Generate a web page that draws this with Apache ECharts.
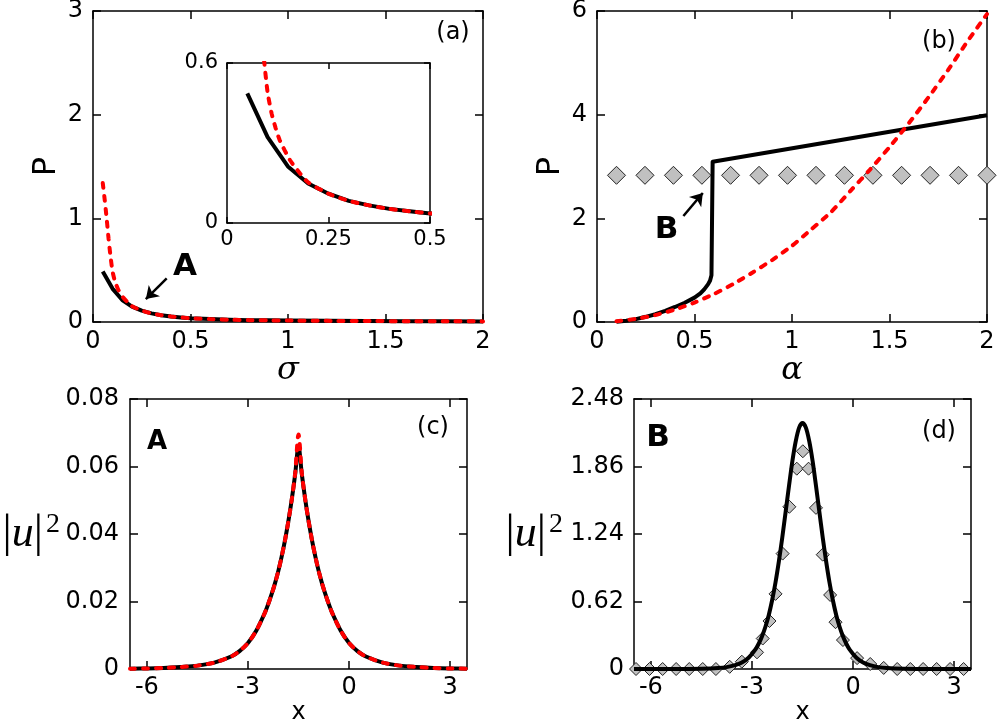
<!DOCTYPE html>
<html>
<head>
<meta charset="utf-8">
<script src="https://cdn.jsdelivr.net/npm/echarts@6/dist/echarts.min.js"></script>
<style>
html,body{margin:0;padding:0;background:#fff;}
#main{width:997px;height:719px;}
</style>
</head>
<body>
<div id="main"></div>
<script>
// ---------- Panel (a): P vs sigma ----------
const sigmaBlack = [0.05,0.1,0.15,0.2,0.25,0.3,0.35,0.4,0.45,0.5,0.6,0.7,0.8,0.9,1.0,1.2,1.4,1.6,1.8,2.0];
const pBlackA   = [0.486,0.322,0.212,0.148,0.110,0.083,0.066,0.053,0.044,0.036,0.028,0.022,0.018,0.016,0.014,0.011,0.009,0.008,0.007,0.006];
const sigmaRed  = [0.05,0.06,0.07,0.08,0.09,0.1,0.11,0.12,0.13,0.155,0.18,0.2,0.25,0.3,0.35,0.4,0.45,0.5,0.6,0.7,0.8,0.9,1.0,1.2,1.4,1.6,1.8,2.0];
const pRedA     = [1.34,1.18,1.00,0.80,0.63,0.49,0.41,0.355,0.31,0.236,0.186,0.152,0.110,0.083,0.066,0.053,0.044,0.036,0.028,0.022,0.018,0.016,0.014,0.011,0.009,0.008,0.007,0.006];
const ticksAx = [0,0.5,1,1.5,2];
const ticksAy = [0,1,2,3];
const ticksInsetX = [0,0.25,0.5];
const ticksInsetY = [0,0.6];

// ---------- Panel (b): P vs alpha ----------
const alphaBlack = [0.1,0.15,0.2,0.25,0.3,0.35,0.4,0.45,0.5,0.53,0.55,0.57,0.58,0.587,0.593,2.0];
const pBlackB    = [0.005,0.025,0.055,0.10,0.15,0.215,0.29,0.37,0.47,0.55,0.63,0.73,0.80,0.90,3.09,3.99];
const alphaRed   = [0.1,0.2,0.3,0.4,0.5,0.6,0.7,0.8,0.9,1.0,1.1,1.2,1.3,1.4,1.5,1.6,1.7,1.8,1.9,2.0];
const pRedB      = [0.015,0.06,0.135,0.24,0.375,0.54,0.735,0.96,1.2,1.47,1.79,2.12,2.53,2.94,3.375,3.84,4.335,4.86,5.415,5.94];
const alphaDiamond = [0.1,0.246,0.392,0.538,0.685,0.831,0.977,1.123,1.269,1.415,1.562,1.708,1.854,2.0];
const pDiamond     = [2.83,2.83,2.83,2.83,2.83,2.83,2.83,2.83,2.83,2.83,2.83,2.83,2.83,2.83];
const ticksBx = [0,0.5,1,1.5,2];
const ticksBy = [0,2,4,6];

// ---------- Panel (c): |u|^2 vs x (state A) ----------
const xC      = [-6.5,-6,-5.5,-5,-4.5,-4,-3.5,-3.25,-3,-2.75,-2.5,-2.4,-2.3,-2.2,-2.1,-2,-1.9,-1.8,-1.7,-1.6,-1.5,-1.4,-1.3,-1.2,-1.1,-1,-0.9,-0.8,-0.7,-0.6,-0.5,-0.25,0,0.25,0.5,1,1.5,2,2.5,3,3.5];
const uBlackC = [0.0001,0.00015,0.0003,0.0006,0.001,0.0019,0.0037,0.0053,0.0077,0.0114,0.0166,0.0192,0.0221,0.0253,0.029,0.0333,0.0382,0.0438,0.0502,0.0576,0.066,0.0576,0.0502,0.0438,0.0382,0.0333,0.029,0.0253,0.0221,0.0192,0.0166,0.0114,0.0077,0.0053,0.0037,0.0019,0.001,0.0006,0.0003,0.00015,0.0001];
const uRedC   = [0.0001,0.00015,0.0003,0.0006,0.001,0.0019,0.0037,0.0053,0.0077,0.0114,0.0166,0.0192,0.0221,0.0253,0.029,0.0333,0.0382,0.0438,0.0502,0.058,0.0695,0.058,0.0502,0.0438,0.0382,0.0333,0.029,0.0253,0.0221,0.0192,0.0166,0.0114,0.0077,0.0053,0.0037,0.0019,0.001,0.0006,0.0003,0.00015,0.0001];
const ticksCx = [-6,-3,0,3];
const ticksCy = [0,0.02,0.04,0.06,0.08];

// ---------- Panel (d): |u|^2 vs x (state B) ----------
const xD      = [-6.5,-6,-5.5,-5,-4.5,-4,-3.75,-3.5,-3.3,-3.1,-2.9,-2.8,-2.7,-2.6,-2.5,-2.4,-2.3,-2.2,-2.1,-2.0,-1.9,-1.8,-1.7,-1.6,-1.5,-1.4,-1.3,-1.2,-1.1,-1.0,-0.9,-0.8,-0.7,-0.6,-0.5,-0.4,-0.3,-0.2,-0.1,0.1,0.3,0.5,0.75,1.0,1.5,2.0,2.5,3.0,3.5];
const uBlackD = [0,0,0.0001,0.0005,0.002,0.0087,0.0174,0.035,0.06,0.104,0.178,0.232,0.301,0.388,0.497,0.634,0.797,0.991,1.208,1.445,1.683,1.91,2.093,2.217,2.26,2.217,2.093,1.91,1.683,1.445,1.208,0.991,0.797,0.634,0.497,0.388,0.301,0.232,0.178,0.104,0.06,0.035,0.0174,0.0087,0.002,0.0005,0.0001,0,0];
const xDiamondD = [-6.44,-6.04,-5.65,-5.25,-4.86,-4.46,-4.07,-3.66,-3.30,-2.85,-2.68,-2.48,-2.30,-2.09,-1.89,-1.67,-1.49,-1.32,-1.10,-0.90,-0.68,-0.52,-0.30,0.12,0.51,0.91,1.31,1.70,2.08,2.48,2.88,3.28];
const uDiamondD = [0,0,0,0,0,0,0,0.02,0.067,0.153,0.28,0.441,0.69,1.06,1.49,1.84,2.0,1.84,1.48,1.05,0.68,0.43,0.266,0.10,0.046,0.01,0,0,0,0,0,0];
const ticksDx = [-6,-3,0,3];
const ticksDy = [0,0.62,1.24,1.86,2.48];

// annotations (data coordinates)
const arrowA = [[0.378,0.42],[0.271,0.221]];
const labelA = [0.472,0.533];
const arrowB = [[0.443,2.045],[0.5426,2.49]];
const labelB = [0.357,1.775];

const zip = (xs, ys) => xs.map((x, i) => [x, ys[i]]);
const FONT = 'DejaVu Sans';

function xPair(grid, min, max, ticks, o) {
  o = o || {};
  const tl = o.tickLen || 8, fs = o.fontSize || 24;
  const base = {
    type: 'value', gridIndex: grid, min: min, max: max,
    splitLine: {show: false},
    axisLine: {show: true, onZero: false, lineStyle: {color: '#000', width: 1.5}},
    axisTick: {show: true, inside: true, length: tl, customValues: ticks, lineStyle: {color: '#000', width: 1.5}}
  };
  const bottom = Object.assign({}, base, {
    position: 'bottom',
    axisLabel: {show: true, customValues: ticks, margin: o.margin || 8, fontSize: fs, fontFamily: FONT, color: '#000', formatter: o.fmt},
    name: o.name || '', nameLocation: 'middle', nameGap: o.nameGap || 30,
    nameTextStyle: o.nameStyle || {}
  });
  const top = Object.assign({}, base, {position: 'top', axisLabel: {show: false}});
  return [bottom, top];
}
function yPair(grid, min, max, ticks, o) {
  o = o || {};
  const tl = o.tickLen || 8, fs = o.fontSize || 24;
  const base = {
    type: 'value', gridIndex: grid, min: min, max: max,
    splitLine: {show: false},
    axisLine: {show: true, onZero: false, lineStyle: {color: '#000', width: 1.5}},
    axisTick: {show: true, inside: true, length: tl, customValues: ticks, lineStyle: {color: '#000', width: 1.5}}
  };
  const left = Object.assign({}, base, {
    position: 'left',
    axisLabel: {show: true, customValues: ticks, margin: o.margin || 10, fontSize: fs, fontFamily: FONT, color: '#000', formatter: o.fmt},
    name: o.name || '', nameLocation: 'middle', nameGap: o.nameGap || 30, nameRotate: o.nameRotate,
    nameTextStyle: o.nameStyle || {}
  });
  const right = Object.assign({}, base, {position: 'right', axisLabel: {show: false}});
  return [left, right];
}

const uName = '{b||}{u|u}{b||}{s|2}';
const uStyle = {
  rich: {
    b: {fontFamily: 'Liberation Serif', fontSize: 46, color: '#000'},
    u: {fontFamily: 'Liberation Serif', fontStyle: 'italic', fontSize: 44, color: '#000'},
    s: {fontFamily: 'Liberation Serif', fontSize: 28, color: '#000', verticalAlign: 'top', padding: [0, 0, 0, 3]}
  }
};

const xAxes = [].concat(
  xPair(0, 0, 2, ticksAx, {name: 'σ', nameGap: 30, nameStyle: {fontFamily: 'DejaVu Serif', fontStyle: 'italic', fontSize: 32, color: '#000'}}),
  xPair(1, 0, 0.5, ticksInsetX, {tickLen: 6, fontSize: 21, margin: 6}),
  xPair(2, 0, 2, ticksBx, {name: 'α', nameGap: 32, nameStyle: {fontFamily: 'DejaVu Serif', fontStyle: 'italic', fontSize: 32, color: '#000'}}),
  xPair(3, -6.5, 3.5, ticksCx, {margin: 7, name: 'x', nameGap: 24, nameStyle: {fontFamily: FONT, fontSize: 24, color: '#000'}}),
  xPair(4, -6.5, 3.5, ticksDx, {margin: 7, name: 'x', nameGap: 24, nameStyle: {fontFamily: FONT, fontSize: 24, color: '#000'}})
);
const yAxes = [].concat(
  yPair(0, 0, 3, ticksAy, {name: 'P', nameRotate: 90, nameGap: 30, nameStyle: {fontFamily: FONT, fontSize: 32, color: '#000'}}),
  yPair(1, 0, 0.6, ticksInsetY, {tickLen: 6, fontSize: 21, margin: 9}),
  yPair(2, 0, 6, ticksBy, {name: 'P', nameRotate: 90, nameGap: 30, nameStyle: {fontFamily: FONT, fontSize: 32, color: '#000'}}),
  yPair(3, 0, 0.08, ticksCy, {margin: 11, name: uName, nameRotate: 0, nameGap: 70, nameStyle: uStyle}),
  yPair(4, 0, 2.48, ticksDy, {margin: 10, name: uName, nameRotate: 0, nameGap: 71, nameStyle: uStyle,
    fmt: v => (v === 0 ? '0' : v.toFixed(2))})
);

const blackLine = {color: '#000', width: 4, type: 'solid', join: 'round'};
const redLine = {color: '#ff0000', width: 4, type: [5, 8], cap: 'round'};

function line(xi, yi, data, style, extra) {
  return Object.assign({
    type: 'line', xAxisIndex: xi, yAxisIndex: yi, data: data,
    showSymbol: false, symbol: 'none', lineStyle: style, silent: true, animation: false, clip: true
  }, extra || {});
}
function diamonds(xi, yi, data, size) {
  return {
    type: 'scatter', xAxisIndex: xi, yAxisIndex: yi, data: data, symbol: 'diamond',
    symbolSize: size, itemStyle: {color: '#c0c0c0', borderColor: '#222', borderWidth: 1, opacity: 1},
    silent: true, animation: false
  };
}
function arrowMarks(arrow, labelPos, text) {
  return {
    markLine: {
      silent: true, animation: false, symbol: ['none', 'arrow'], symbolSize: 12,
      lineStyle: {color: '#000', width: 2.5, type: 'solid'}, label: {show: false},
      data: [[{coord: arrow[0]}, {coord: arrow[1]}]]
    },
    markPoint: {
      silent: true, animation: false, symbol: 'rect', symbolSize: 1,
      itemStyle: {color: 'rgba(0,0,0,0)'},
      label: {show: true, position: 'inside', formatter: text, fontFamily: FONT, fontWeight: 'bold', fontSize: 31, color: '#000'},
      data: [{coord: labelPos}]
    }
  };
}

const series = [
  // (a)
  line(0, 0, zip(sigmaBlack, pBlackA), blackLine, arrowMarks(arrowA, labelA, 'A')),
  line(0, 0, zip(sigmaRed, pRedA), redLine, {smooth: 0.2}),
  // inset
  line(2, 2, zip(sigmaBlack, pBlackA), blackLine),
  line(2, 2, zip(sigmaRed, pRedA), redLine, {smooth: 0.2}),
  // (b)
  diamonds(4, 4, zip(alphaDiamond, pDiamond), 18),
  line(4, 4, zip(alphaBlack, pBlackB), blackLine, arrowMarks(arrowB, labelB, 'B')),
  line(4, 4, zip(alphaRed, pRedB), redLine, {smooth: 0.2}),
  // (c)
  line(6, 6, zip(xC, uBlackC), blackLine, {smooth: 0.3}),
  line(6, 6, zip(xC, uRedC), redLine, {smooth: 0.3}),
  // (d)
  diamonds(8, 8, zip(xDiamondD, uDiamondD), 13),
  line(8, 8, zip(xD, uBlackD), blackLine, {smooth: 0.3})
];

function txt(x, y, text, size, weight) {
  return {type: 'text', x: x, y: y, silent: true,
    style: {text: text, fill: '#000', font: (weight || 'normal') + ' ' + size + 'px "DejaVu Sans"', align: 'center', verticalAlign: 'middle'}};
}

const option = {
  animation: false,
  backgroundColor: '#fff',
  grid: [
    {left: 93, top: 11, width: 390, height: 311, containLabel: false, outerBoundsMode: 'none'},
    {left: 227, top: 63, width: 203, height: 160, containLabel: false, outerBoundsMode: 'none', show: true, backgroundColor: '#fff', borderWidth: 0},
    {left: 597, top: 11, width: 390, height: 311, containLabel: false, outerBoundsMode: 'none'},
    {left: 130, top: 399, width: 337, height: 270, containLabel: false, outerBoundsMode: 'none'},
    {left: 634, top: 399, width: 337, height: 270, containLabel: false, outerBoundsMode: 'none'}
  ],
  xAxis: xAxes,
  yAxis: yAxes,
  series: series,
  graphic: [
    txt(453, 33, '(a)', 24),
    txt(939, 42, '(b)', 24),
    txt(433, 428, '(c)', 24),
    txt(939, 432, '(d)', 24),
    txt(157, 442, 'A', 26, 'bold'),
    txt(658, 438, 'B', 31, 'bold')
  ]
};

const chart = echarts.init(document.getElementById('main'), null, {renderer: 'canvas', width: 997, height: 719});
chart.setOption(option);
</script>
</body>
</html>
